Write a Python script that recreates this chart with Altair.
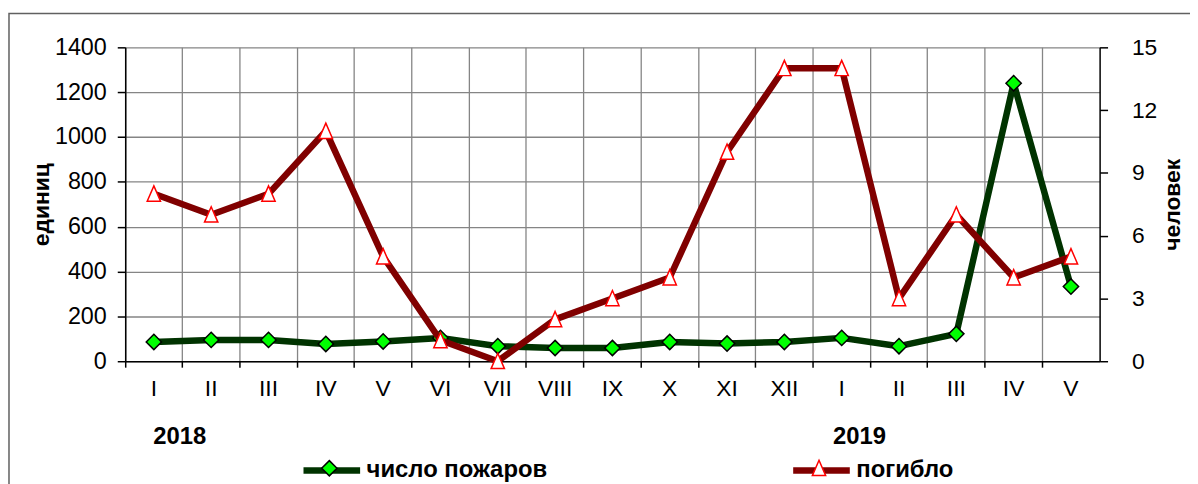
import altair as alt
import pandas as pd

# ---- data ----
months = ["I", "II", "III", "IV", "V", "VI", "VII", "VIII", "IX", "X", "XI", "XII",
          "I", "II", "III", "IV", "V"]
years = [2018] * 12 + [2019] * 5
fires = [86, 95, 95, 77, 88, 104, 67, 59, 59, 86, 79, 86, 104, 67, 122, 1240, 333]
deaths = [8, 7, 8, 11, 5, 1, 0, 2, 3, 4, 10, 14, 14, 3, 7, 4, 5]
series_names = ["число пожаров", "погибло"]
left_ticks = [0, 200, 400, 600, 800, 1000, 1200, 1400]
right_ticks = [0, 3, 6, 9, 12, 15]
year_labels = ["2018", "2019"]

keys = [f"{y}-{m}" for y, m in zip(years, months)]
rows = []
for k, f, d in zip(keys, fires, deaths):
    rows.append({"key": k, "series": series_names[0], "value": f})
    rows.append({"key": k, "series": series_names[1], "value": d})
df = pd.DataFrame(rows)

FONT = "Liberation Sans"
GRID = "#858585"
W, H = 981, 316

DIAMOND = "M0,-0.27L0.27,0L0,0.27L-0.27,0Z"
TRIANGLE = "M0,-0.28L0.235,0.26L-0.235,0.26Z"
SYM = 3249

x_enc = alt.X(
    "key:N", sort=keys,
    scale=alt.Scale(type="band", domain=keys, paddingInner=0, paddingOuter=0),
    axis=alt.Axis(
        title=None, bandPosition=0, labelAngle=0,
        labelExpr="split(datum.label, '-')[1]",
        grid=True, gridColor=GRID, gridWidth=1.3,
        tickColor="black", tickWidth=1.5, tickSize=6,
        domainColor="black", domainWidth=1.5,
        labelPadding=11, labelFont=FONT, labelFontSize=23, labelColor="black",
    ),
)

common_leg = dict(
    title=None, orient="none", legendX=176, legendY=394, direction="horizontal",
    symbolSize=SYM, labelFont=FONT, labelFontSize=24, labelFontWeight="bold",
    labelColor="black", labelLimit=400, labelOffset=3,
)
legA = alt.Legend(symbolType="M-1,0L1,0", symbolStrokeWidth=6.5, columnPadding=234, **common_leg)
legB = alt.Legend(symbolStrokeWidth=1.5, labelExpr="''", zindex=1, columnPadding=431, **common_leg)

color_enc = alt.Color("series:N", scale=alt.Scale(domain=series_names, range=["#003300", "#800000"]),
                      legend=legA)
fill_enc = alt.Fill("series:N", sort="descending", scale=alt.Scale(range=["#00FF00", "#FFFFFF"]), legend=legB)
stroke_enc = alt.Stroke("series:N", sort="descending", scale=alt.Scale(range=["#000000", "#FF0000"]), legend=legB)
shape_enc = alt.Shape("series:N", sort="descending", scale=alt.Scale(range=[DIAMOND, TRIANGLE]), legend=legB)

y_left = alt.Y(
    "value:Q", scale=alt.Scale(domain=[0, 1400], nice=False),
    axis=alt.Axis(
        orient="left", values=left_ticks, format="d", title="единиц", grid=True, gridColor=GRID, gridWidth=1.3,
        tickColor="black", tickWidth=1.5, tickSize=8, domainColor="black", domainWidth=1.5,
        labelPadding=11, labelFont=FONT, labelFontSize=23.5, labelColor="black",
        titleFont=FONT, titleFontSize=23, titleFontWeight="bold", titleColor="black", titlePadding=1,
    ),
)
y_right = alt.Y(
    "value:Q", scale=alt.Scale(domain=[0, 15], nice=False),
    axis=alt.Axis(
        orient="right", values=right_ticks, format="d", title="человек", grid=False,
        tickColor="black", tickWidth=1.5, tickSize=8, domainColor="black", domainWidth=1.5,
        labelPadding=24, labelFont=FONT, labelFontSize=23, labelColor="black",
        titleFont=FONT, titleFontSize=23, titleFontWeight="bold", titleColor="black",
        titleAngle=270, titlePadding=28,
    ),
)

base = alt.Chart(df)

frame = alt.Chart(pd.DataFrame({"a": [0]})).mark_rect(
    fill="transparent", stroke="#606060", strokeWidth=1.5
).encode(x=alt.value(-117), x2=alt.value(1100), y=alt.value(-34), y2=alt.value(480))

f_line = base.transform_filter(alt.datum.series == series_names[0]).mark_line(
    strokeWidth=6.5, strokeJoin="round", strokeCap="round"
).encode(x=x_enc, y=y_left, color=color_enc)
f_pts = base.transform_filter(alt.datum.series == series_names[0]).mark_point(
    filled=True, opacity=1, strokeWidth=1.5, size=SYM
).encode(x=x_enc, y=y_left, fill=fill_enc, stroke=stroke_enc, shape=shape_enc)

d_line = base.transform_filter(alt.datum.series == series_names[1]).mark_line(
    strokeWidth=6.5, strokeJoin="round", strokeCap="round"
).encode(x=x_enc, y=y_right, color=color_enc)
d_pts = base.transform_filter(alt.datum.series == series_names[1]).mark_point(
    filled=True, opacity=1, strokeWidth=1.5, size=SYM
).encode(x=x_enc, y=y_right, fill=fill_enc, stroke=stroke_enc, shape=shape_enc)

yr_style = dict(font=FONT, fontSize=24, fontWeight="bold", color="black", baseline="middle", align="center")
y2018 = alt.Chart(pd.DataFrame({"key": [keys[0]], "label": [year_labels[0]]})).mark_text(
    dx=26, **yr_style).encode(x=x_enc, y=alt.value(392), text="label:N")
y2019 = alt.Chart(pd.DataFrame({"key": [keys[12]], "label": [year_labels[1]]})).mark_text(
    dx=18, **yr_style).encode(x=x_enc, y=alt.value(392), text="label:N")

left_group = alt.layer(frame, f_line, f_pts, y2018, y2019)
right_group = alt.layer(d_line, d_pts)

chart = alt.layer(left_group, right_group).resolve_scale(y="independent").properties(
    width=W, height=H,
    padding={"left": 118, "top": 38, "right": 91, "bottom": 122},
    autosize=alt.AutoSizeParams(type="none"),
    background="white",
).configure_view(strokeWidth=0)

chart.save("out.html", embed_options={"renderer": "svg", "actions": False})
